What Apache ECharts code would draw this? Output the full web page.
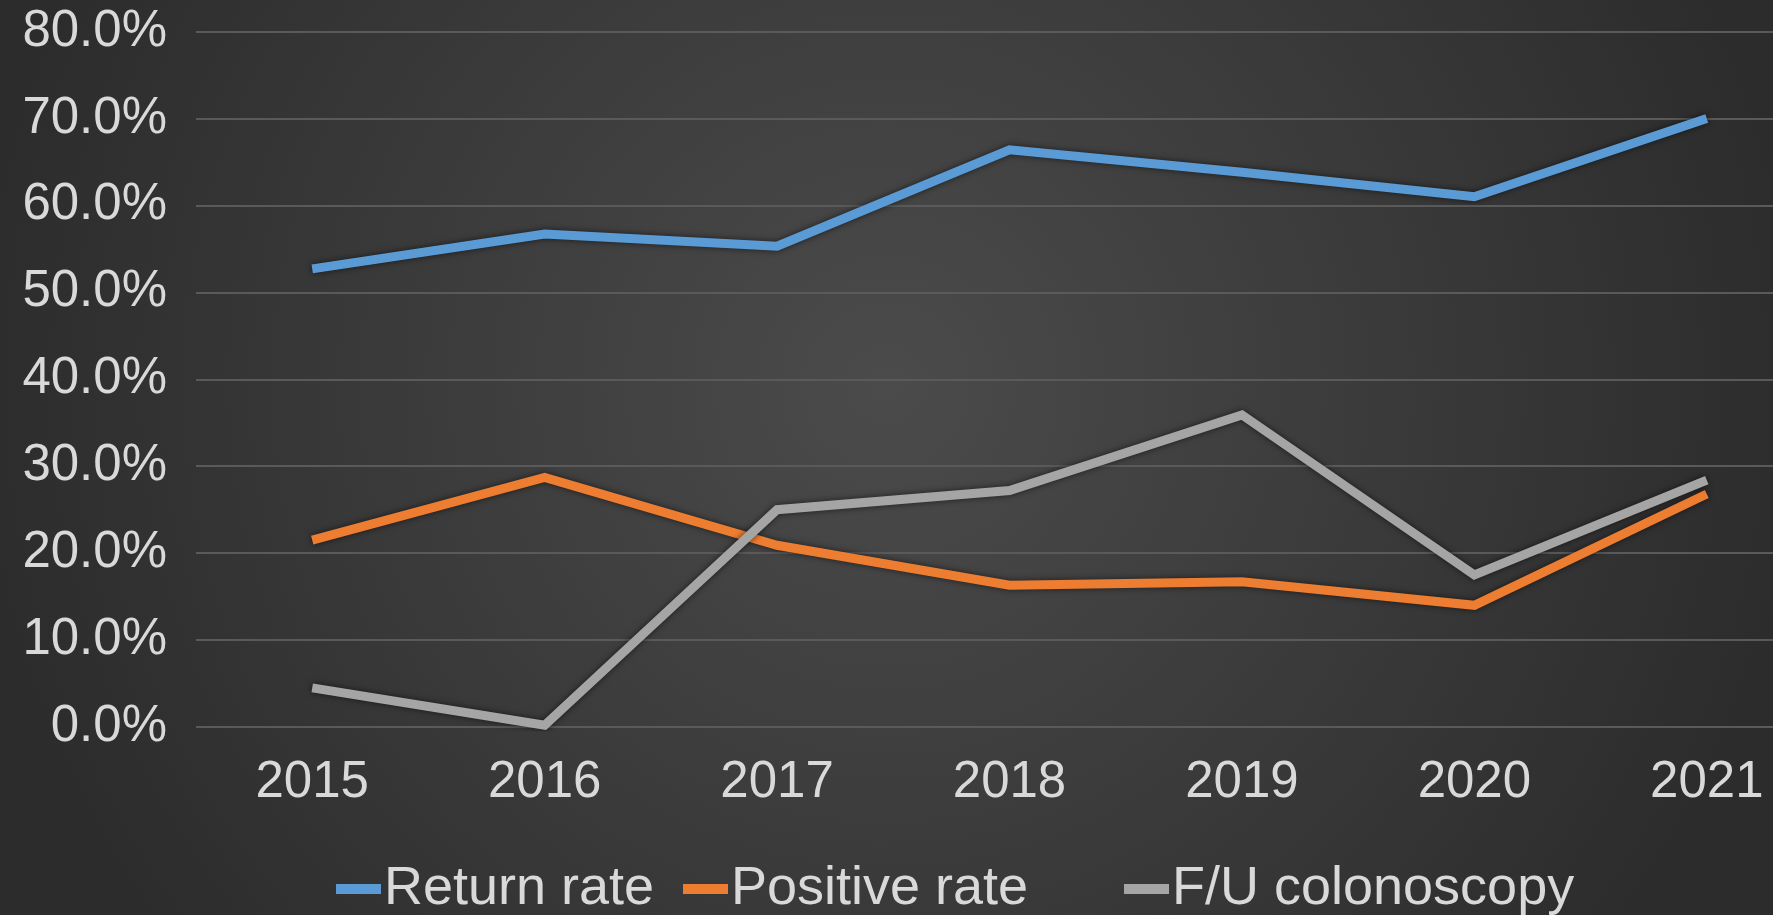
<!DOCTYPE html>
<html>
<head>
<meta charset="utf-8">
<script src="https://cdn.jsdelivr.net/npm/echarts@6/dist/echarts.min.js"></script>
<style>
html,body{margin:0;padding:0;background:#333;}
#chart{width:1773px;height:915px;}
</style>
</head>
<body>
<div id="chart"></div>
<script>
const years = ['2015','2016','2017','2018','2019','2020','2021'];
const returnRate = [52.7, 56.7, 55.3, 66.4, 63.8, 61.0, 70.0];
const positiveRate = [21.5, 28.7, 20.9, 16.3, 16.7, 14.0, 26.8];
const fuColonoscopy = [4.5, 0.2, 25.0, 27.2, 35.9, 17.5, 28.4];
const seriesNames = ['Return rate', 'Positive rate', 'F/U colonoscopy'];
const yTicks = [0, 10, 20, 30, 40, 50, 60, 70, 80];

const colors = ['#5B9BD5', '#ED7D31', '#A5A5A5'];
const font = 'Liberation Sans, Arial, sans-serif';
const textColor = '#d9d9d9';

const chart = echarts.init(document.getElementById('chart'), null, {renderer: 'canvas'});
function lineSeries(name, data, color) {
  return {
    name: name, type: 'line', data: data,
    symbol: 'none', smooth: false,
    lineStyle: {color: color, width: 9, join: 'miter', cap: 'butt',
      shadowColor: 'rgba(0,0,0,0.6)', shadowBlur: 6},
    itemStyle: {color: color},
    emphasis: {disabled: true}
  };
}
function legendAt(name, left) {
  return {
    data: [name], left: left, top: 857,
    icon: 'rect', itemWidth: 45, itemHeight: 10,
    textStyle: {color: textColor, fontFamily: font, fontSize: 54, padding: [0, 0, 0, -2]}
  };
}
chart.setOption({
  animation: false,
  backgroundColor: {
    type: 'radial', x: 0.5, y: 0.42, r: 1.0,
    colorStops: [{offset: 0, color: '#4b4b4b'}, {offset: 1, color: '#2c2c2c'}]
  },
  color: colors,
  grid: {left: 196, width: 1627, top: 31.5, bottom: 915 - 727,
    outerBoundsMode: 'none', containLabel: false},
  xAxis: {
    type: 'category', data: years, boundaryGap: true,
    axisLine: {show: false}, axisTick: {show: false},
    axisLabel: {color: textColor, fontFamily: font, fontSize: 51, margin: 30}
  },
  yAxis: {
    type: 'value', min: yTicks[0], max: yTicks[yTicks.length - 1], interval: 10,
    axisLine: {show: false}, axisTick: {show: false},
    splitLine: {lineStyle: {color: '#5a5a5a', width: 2}},
    axisLabel: {color: textColor, fontFamily: font, fontSize: 51, margin: 29,
      formatter: v => v.toFixed(1) + '%'}
  },
  legend: [
    legendAt(seriesNames[0], 331),
    legendAt(seriesNames[1], 678),
    legendAt(seriesNames[2], 1119)
  ],
  series: [
    lineSeries(seriesNames[0], returnRate, colors[0]),
    lineSeries(seriesNames[1], positiveRate, colors[1]),
    lineSeries(seriesNames[2], fuColonoscopy, colors[2])
  ]
});
</script>
</body>
</html>
